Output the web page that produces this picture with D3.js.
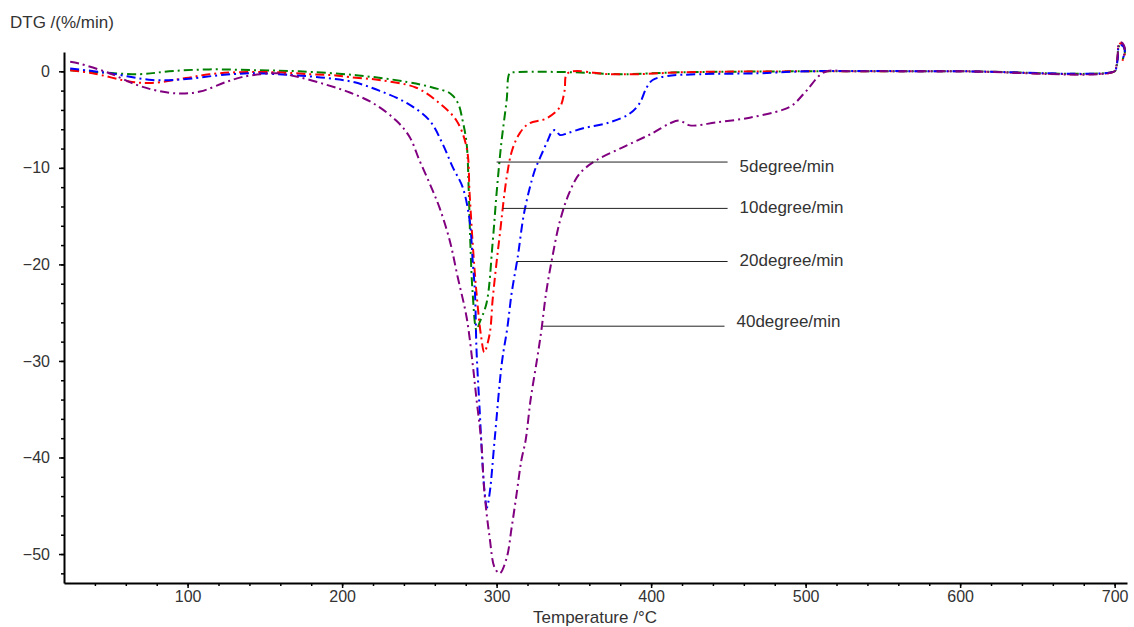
<!DOCTYPE html>
<html>
<head>
	<meta charset="utf-8">
	<script type="text/javascript" src="https://cdn.jsdelivr.net/npm/d3@7/dist/d3.min.js"></script>
	<title>DTG curves</title>
	<style>
		body { margin: 0; background: #fff; }
		text { font-family: "Liberation Sans", Arial, sans-serif; }
	</style>
</head>
<body>
	<script type="text/javascript">

	// temperatures (°C) and DTG values (%/min)
	var t5  = [24, 43, 69, 88, 114, 147, 172, 209, 242, 259, 270, 275, 278, 280.6, 282, 283, 284.5, 287, 289, 293.5, 297.4, 300, 303, 306.5, 308.4, 311, 350, 380, 420, 500, 600, 700, 701, 702, 702.5, 704, 706, 706.5, 705];
	var v5  = [0.1, -0.1, -0.3, 0, 0.2, 0.1, 0, -0.4, -1.1, -1.7, -2.3, -3.3, -5.1, -7.5, -12.6, -17.8, -23, -26.8, -26, -24, -17.8, -12.6, -7.5, -3, -0.2, -0.1, -0.1, -0.3, -0.1, 0, 0, 0, 0.3, 1.5, 2.5, 2.8, 2.6, 1.8, 1.2];

	var t10 = [24, 38.5, 64, 77, 99, 114, 132, 158, 179, 194, 205, 224, 248, 263, 274, 280.6, 282.5, 284.5, 287, 290, 292, 295.5, 297.4, 299.4, 302, 306.5, 310, 315, 321, 332, 341, 344, 346, 373, 392, 420, 500, 600, 700, 701, 702, 702.5, 704, 706, 706.5, 705];
	var v10 = [0.1, -0.2, -1.1, -1.2, -0.7, -0.3, -0.1, -0.1, -0.3, -0.4, -0.6, -0.9, -1.7, -3.3, -5.1, -7.9, -12.6, -17.8, -23, -27.5, -29.1, -27.2, -23.7, -20.6, -17, -11, -8.2, -6.4, -5.4, -4.9, -3.7, -2.0, -0.2, -0.3, -0.3, -0.1, 0, 0, 0, 0.4, 1.6, 2.6, 2.9, 2.5, 1.7, 1.1];

	var t20 = [24, 49.5, 77, 99, 121, 142, 168, 190, 207, 224, 242, 256.6, 265, 271.5, 278, 282.5, 284.5, 286, 287, 289, 291, 292.5, 293.7, 295.5, 298.7, 303.4, 307, 309.7, 313.6, 318, 324.6, 328, 333, 336, 338, 341, 346, 356, 373, 386, 392.6, 397, 401, 410, 431, 470, 500, 600, 700, 701, 702, 702.5, 704, 706, 706.5, 705];
	var v20 = [0.3, -0.2, -0.9, -0.8, -0.4, -0.2, -0.4, -0.7, -1.1, -2.0, -3.3, -5.1, -7.5, -9.9, -12, -15.4, -19.6, -23, -28.9, -35, -41, -44, -45.2, -43.7, -38.2, -30.2, -26.5, -23, -19.3, -14.5, -10.3, -9, -7.2, -6.2, -6.1, -6.6, -6.4, -5.9, -5.3, -4.4, -3.3, -1.7, -0.9, -0.5, -0.3, -0.2, 0, 0, 0, 0.3, 1.4, 2.4, 2.7, 2.5, 1.8, 1.3];

	var t40 = [24, 30, 49.5, 67, 80, 95, 108, 125, 135, 147, 158, 172, 190, 205, 220, 235, 243.7, 250, 256.6, 263, 269.6, 274.8, 280.6, 284.5, 287, 290, 292, 295.5, 298.7, 302, 306.5, 309.7, 313, 316, 318.8, 322, 326, 329, 332, 336, 341, 347, 353.7, 364.7, 384, 401, 412, 418.4, 425, 442, 463.8, 485, 491.6, 500.6, 512, 530, 600, 700, 701, 702, 702.5, 704, 706, 706.5, 705];
	var v40 = [1.0, 0.8, -0.2, -1.4, -2.0, -2.3, -2.1, -1.1, -0.6, -0.3, -0.2, -0.6, -1.4, -2.2, -3.3, -5.1, -6.8, -9.2, -11.6, -14.1, -17.5, -21.3, -25.5, -30.3, -34, -38.2, -43.4, -48.3, -51.4, -52, -50.4, -47.3, -43.7, -40.3, -38.2, -34, -30, -26.8, -23, -19.3, -15.5, -12.6, -10.6, -9.2, -7.7, -6.4, -5.4, -5.1, -5.6, -5.3, -4.8, -4.0, -3.5, -2.0, -0.1, 0, 0, 0, 0.5, 1.7, 2.7, 3.0, 2.7, 1.9, 1.4];

	var seriesNames = ["5degree/min", "10degree/min", "20degree/min", "40degree/min"];
	var seriesColors = ["#008000", "#ff0000", "#0000ff", "#800080"];

	// annotation leader lines: level, start temperature, end temperature
	var labelLevel = [-9.4, -14.2, -19.7, -26.4];
	var labelStart = [300, 304, 313, 330];
	var labelEnd   = [449.5, 449.5, 449.5, 447.5];

	var xMajor = [100, 200, 300, 400, 500, 600, 700];
	var yMajor = [0, -10, -20, -30, -40, -50];

	var widthSvg = 1134;
	var heightSvg = 627;
	var fontSize = 17;
	var tickFont = 16;

	var svg = d3.select("body")
		.append("svg")
		.attr("width", widthSvg)
		.attr("height", heightSvg);

	var xScale = d3.scaleLinear()
		.domain([20, 708])
		.range([64, 1127]);

	var yScale = d3.scaleLinear()
		.domain([2, -53])
		.range([52, 583]);

	var xMinor = d3.range(40, 701, 20);
	var yMinor = d3.range(-52, 1, 2);

	// minor ticks
	svg.append("g")
		.attr("transform", "translate(0,583)")
		.call(d3.axisBottom(xScale).tickValues(xMinor).tickSize(3).tickFormat(""))
		.call(function(g) { g.select(".domain").remove(); });
	svg.append("g")
		.attr("transform", "translate(64,0)")
		.call(d3.axisLeft(yScale).tickValues(yMinor).tickSize(3).tickFormat(""))
		.call(function(g) { g.select(".domain").remove(); });

	// major ticks + labels
	var xAxis = svg.append("g")
		.attr("transform", "translate(0,583)")
		.call(d3.axisBottom(xScale).tickValues(xMajor).tickSize(5).tickSizeOuter(0).tickPadding(3));
	var yAxis = svg.append("g")
		.attr("transform", "translate(64,0)")
		.call(d3.axisLeft(yScale).tickValues(yMajor).tickSize(5).tickSizeOuter(0).tickPadding(9));

	svg.selectAll(".tick line").attr("stroke", "#000").attr("stroke-width", 1.5);
	[xAxis, yAxis].forEach(function(a) {
		a.select(".domain").attr("stroke", "#000").attr("stroke-width", 2);
		a.selectAll("text")
			.attr("font-size", tickFont)
			.attr("fill", "#333");
	});

	svg.append("text")
		.attr("x", 10).attr("y", 28)
		.attr("font-size", fontSize).attr("fill", "#333")
		.text("DTG /(%/min)");

	svg.append("text")
		.attr("x", 595).attr("y", 623)
		.attr("text-anchor", "middle")
		.attr("font-size", fontSize).attr("fill", "#333")
		.text("Temperature /°C");

	var allT = [t5, t10, t20, t40];
	var allV = [v5, v10, v20, v40];

	var line = d3.line()
		.x(function(d) { return xScale(d[0]); })
		.y(function(d) { return yScale(d[1]); })
		.curve(d3.curveCatmullRom.alpha(0.5));

	allT.forEach(function(ts, i) {
		var pts = ts.map(function(t, j) { return [t, allV[i][j]]; });
		svg.append("path")
			.datum(pts)
			.attr("fill", "none")
			.attr("stroke", seriesColors[i])
			.attr("stroke-width", 2)
			.attr("stroke-dasharray", "9,4,2,4")
			.attr("d", line);
	});

	// leader lines and labels
	var labelDy = [10, 5, 4, 1];
	seriesNames.forEach(function(name, i) {
		svg.append("line")
			.attr("x1", xScale(labelStart[i]))
			.attr("x2", xScale(labelEnd[i]))
			.attr("y1", yScale(labelLevel[i]))
			.attr("y2", yScale(labelLevel[i]))
			.attr("stroke", "#222")
			.attr("stroke-width", 1);
		svg.append("text")
			.attr("x", xScale(labelEnd[i]) + 12)
			.attr("y", yScale(labelLevel[i]) + labelDy[i])
			.attr("font-size", fontSize).attr("fill", "#333")
			.text(name);
	});

	</script>
</body>
</html>
